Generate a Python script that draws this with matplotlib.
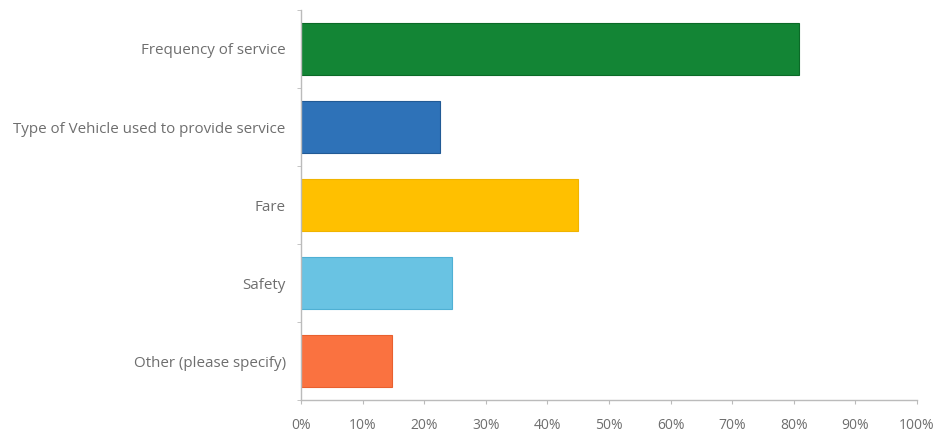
import numpy as np
import matplotlib
matplotlib.use("Agg")
import matplotlib.pyplot as plt
from matplotlib.ticker import PercentFormatter

# ------------------------------------------------------------------------------
# Data
# ------------------------------------------------------------------------------
categories = [
    "Frequency of service",
    "Type of Vehicle used to provide service",
    "Fare",
    "Safety",
    "Other (please specify)",
]
shares = [0.808, 0.226, 0.450, 0.245, 0.148]
colors = ["#138535", "#2E72B8", "#FFC000", "#69C3E3", "#FA7240"]
edges = ["#0B6A27", "#215A95", "#F0B400", "#4FB0D4", "#E8602F"]

GREY = "#6E6E6E"
plt.rcParams["font.family"] = ["Open Sans", "DejaVu Sans"]

fig = plt.figure(figsize=(9.41, 4.34), dpi=100)
ax = fig.add_axes([0.3199, 0.078, 0.6546, 0.899])

y = np.arange(len(categories))
ax.barh(y, shares, height=0.67, color=colors, edgecolor=edges, linewidth=0.8)

ax.set_ylim(len(categories) - 0.5, -0.5)
ax.set_xlim(0, 1)
ax.set_xticks(np.linspace(0, 1, 11))
ax.xaxis.set_major_formatter(PercentFormatter(1.0, decimals=0))

ax.set_yticks(y)
ax.set_yticklabels(categories)
ax.set_yticks(np.arange(-0.5, len(categories)), minor=True)
ax.tick_params(axis="y", which="major", length=0, pad=11, labelsize=10.9, labelcolor=GREY)
ax.tick_params(axis="y", which="minor", length=3, color="#BBBBBB")
ax.tick_params(axis="x", length=3, color="#BBBBBB", pad=10, labelsize=10, labelcolor=GREY)

for side in ("top", "right"):
    ax.spines[side].set_visible(False)
for side in ("left", "bottom"):
    ax.spines[side].set_color("#BBBBBB")
    ax.spines[side].set_linewidth(1.0)

fig.savefig("out.png", dpi=100)
